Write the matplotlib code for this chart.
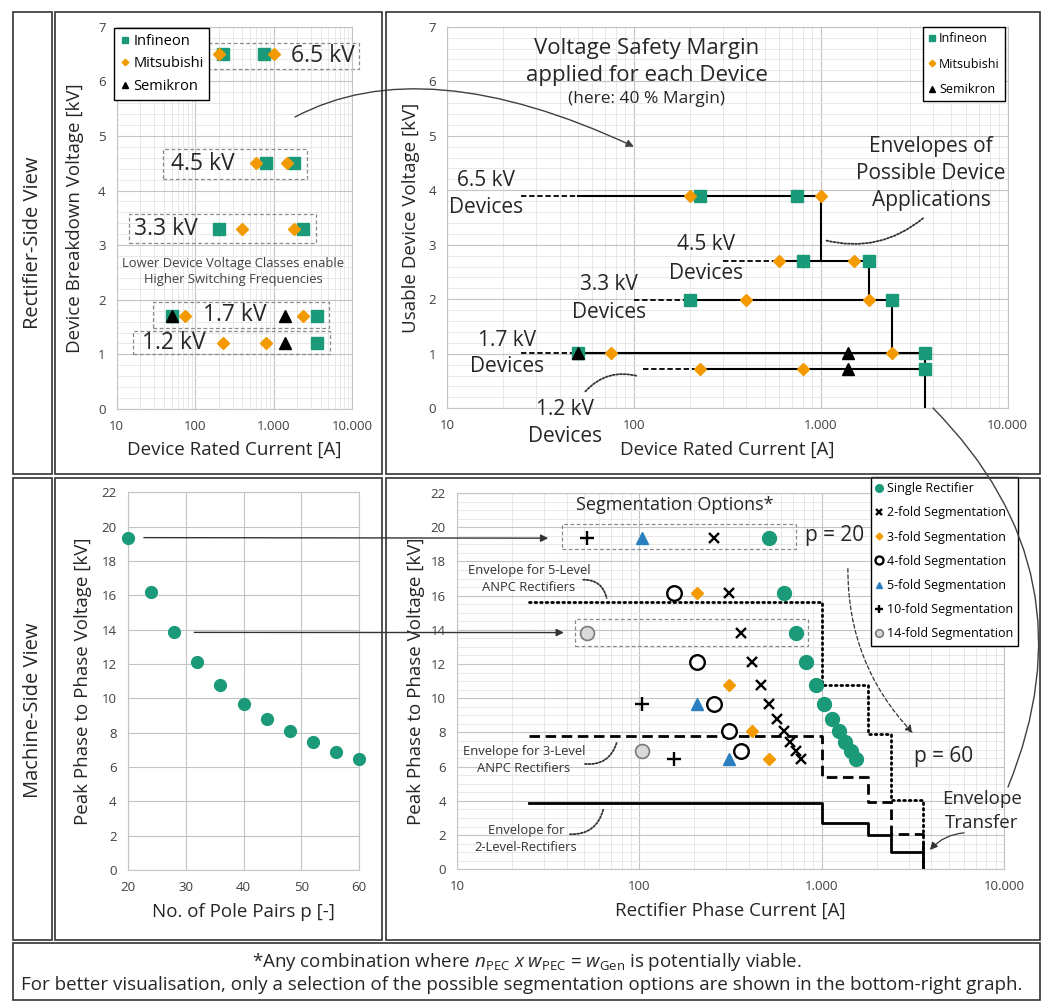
import matplotlib
matplotlib.use('Agg')
import matplotlib.pyplot as plt
from matplotlib.patches import Rectangle, ConnectionPatch
from matplotlib.ticker import FixedLocator, FixedFormatter, NullFormatter, MultipleLocator, LogLocator

plt.rcParams['font.family'] = ['Open Sans', 'DejaVu Sans']
plt.rcParams['mathtext.fontset'] = 'custom'
plt.rcParams['mathtext.rm'] = 'Open Sans'
plt.rcParams['mathtext.it'] = 'Open Sans:italic'

# ------------------------------------------------------------------ data
# Rectifier side: device classes
classes = ['6.5 kV', '4.5 kV', '3.3 kV', '1.7 kV', '1.2 kV']
breakdown_kv = [6.5, 4.5, 3.3, 1.7, 1.2]
usable_kv = [3.9, 2.7, 1.98, 1.02, 0.72]
infineon_I = [[225, 750], [800, 1800], [200, 2400], [50, 3600], [3600]]
mitsubishi_I = [[200, 1000], [600, 1500], [400, 1800], [75, 2400], [225, 800]]
semikron_I = [[], [], [], [50, 1400], [1400]]
row_start_I = [50, 600, 200, 50, 225]
row_end_I = [1000, 1800, 2400, 3600, 3600]
leader_start_I = [25, 300, 100, 25, 112]
step_I = [1000, 1800, 2400, 3600]
step_top_kv = [3.9, 2.7, 1.98, 1.02]
step_bot_kv = [2.7, 1.98, 1.02, 0.0]

# Machine side
pole_pairs = [20, 24, 28, 32, 36, 40, 44, 48, 52, 56, 60]
v_peak = [19.36, 16.17, 13.84, 12.1, 10.76, 9.69, 8.8, 8.08, 7.46, 6.89, 6.45]

# Segmentation options (rectifier phase current [A], voltage [kV])
single_I = [516, 624, 723, 826, 930, 1033, 1136, 1240, 1343, 1446, 1550]
seg2_I = [258, 312, 361, 413, 465, 516, 568, 620, 671, 723, 775]
seg3_V = [16.17, 10.76, 8.08, 6.45]
seg3_I = [208, 310, 413, 516]
seg4_V = [16.17, 12.1, 9.69, 8.08, 6.89]
seg4_I = [156, 207, 258, 310, 361]
seg5_V = [19.36, 9.69, 6.45]
seg5_I = [103, 207, 310]
seg10_V = [19.36, 9.69, 6.45]
seg10_I = [52, 103, 155]
seg14_V = [13.84, 6.89]
seg14_I = [52, 103]

# Envelopes (rectifier phase current breakpoints, voltage levels)
env_I = [25, 1000, 1800, 2400, 3600, 3600]
env2_V = [3.9, 2.7, 1.98, 1.02, 0.0]
env3_V = [7.8, 5.4, 3.96, 2.04, 0.0]
env5_V = [15.6, 10.8, 7.92, 4.08, 0.0]

xtick_vals = [10, 100, 1000, 10000]
xtick_labels = ['10', '100', '1.000', '10.000']

# ------------------------------------------------------------------ styles
TEAL = '#1a9a78'
ORANGE = '#f29a00'
BLUE = '#2a7fc0'
TXT = '#262626'
TICK = '#404040'
MAJ = '#c4c4c4'
MIN = '#e8e8e8'
AXLAB = 13.5

W, H = 1044, 1001
fig = plt.figure(figsize=(W / 100, H / 100), dpi=100)


def fx(px):
    return px / W


def fy(py):
    return 1 - py / H


def rect(x0, y0, x1, y1):
    return [fx(x0), fy(y1), (x1 - x0) / W, (y1 - y0) / H]


# panel frames
for (x0, y0, x1, y1) in [(13, 12, 52, 474), (55, 12, 382, 474), (386, 12, 1040, 474),
                         (13, 478, 52, 940), (55, 478, 382, 940), (386, 478, 1040, 940),
                         (13, 943, 1040, 1000)]:
    fig.add_artist(Rectangle((fx(x0), fy(y1)), (x1 - x0) / W, (y1 - y0) / H,
                             transform=fig.transFigure, fill=False, ec='#333333', lw=1.2))

fig.text(fx(33), fy(243), 'Rectifier-Side View', rotation=90, ha='center', va='center',
         fontsize=14.5, color=TXT)
fig.text(fx(33), fy(710), 'Machine-Side View', rotation=90, ha='center', va='center',
         fontsize=14.5, color=TXT)


def style(ax, logx=True, ymax=7, ymin_step=0.2, ymaj=1):
    ax.set_axisbelow(True)
    for s in ax.spines.values():
        s.set_color(MAJ)
        s.set_linewidth(0.8)
    if logx:
        ax.set_xscale('log')
        ax.set_xlim(10, 10000)
        ax.xaxis.set_major_locator(FixedLocator(xtick_vals))
        ax.xaxis.set_major_formatter(FixedFormatter(xtick_labels))
        ax.xaxis.set_minor_locator(LogLocator(base=10, subs=range(2, 10)))
        ax.xaxis.set_minor_formatter(NullFormatter())
    ax.set_ylim(0, ymax)
    ax.yaxis.set_major_locator(MultipleLocator(ymaj))
    if ymin_step:
        ax.yaxis.set_minor_locator(MultipleLocator(ymin_step))
    ax.tick_params(which='both', length=0, labelsize=9.5, labelcolor=TICK, pad=8)
    ax.grid(which='major', color=MAJ, lw=0.8)
    if ymin_step:
        ax.grid(which='minor', color=MIN, lw=0.7)


def make_legend(ax, handles, labels, x, y, fs, ls):
    leg = ax.legend(handles, labels, loc='upper left', bbox_to_anchor=(fx(x), fy(y)),
                    bbox_transform=fig.transFigure, fontsize=fs, markerscale=0.55,
                    handlelength=0.6, handletextpad=0.3, labelspacing=ls, borderpad=0.4,
                    borderaxespad=0, fancybox=False, edgecolor='black', framealpha=1)
    leg.get_frame().set_linewidth(1.0)
    leg.set_zorder(10)
    return leg


# ------------------------------------------------------------------ top-left
ax_tl = fig.add_axes(rect(116.7, 26.7, 352, 409))
style(ax_tl)
for i, v in enumerate(breakdown_kv):
    ax_tl.plot(infineon_I[i], [v] * len(infineon_I[i]), ls='none', marker='s', ms=8.5,
               mfc=TEAL, mec=TEAL, zorder=3, label='Infineon' if i == 0 else None)
    ax_tl.plot(mitsubishi_I[i], [v] * len(mitsubishi_I[i]), ls='none', marker='D', ms=6,
               mfc=ORANGE, mec=ORANGE, zorder=3, label='Mitsubishi' if i == 0 else None)
    ax_tl.plot(semikron_I[i], [v] * len(semikron_I[i]), ls='none', marker='^', ms=8.5,
               mfc='black', mec='black', zorder=4, label='Semikron' if i == 3 else None)
ax_tl.set_xlabel('Device Rated Current [A]', fontsize=AXLAB, color=TXT, va='center')
ax_tl.xaxis.set_label_coords(0.5, -0.107)
ax_tl.set_ylabel('Device Breakdown Voltage [kV]', fontsize=AXLAB, color=TXT, va='center')
ax_tl.yaxis.set_label_coords(-0.177, 0.5)
h, l = ax_tl.get_legend_handles_labels()
order = [l.index('Infineon'), l.index('Mitsubishi'), l.index('Semikron')]
make_legend(ax_tl, [h[k] for k in order], [l[k] for k in order], 114.3, 28.3, 10.5, 0.5)

tl_boxes = [(140, 6.23, 12280, 6.70), (39.3, 4.21, 2692, 4.76), (14.4, 3.035, 3443, 3.566),
            (29.3, 1.478, 5094, 1.965), (16, 1.002, 5250, 1.434)]
for (x0, y0, x1, y1) in tl_boxes:
    ax_tl.add_patch(Rectangle((x0, y0), x1 - x0, y1 - y0, fill=False, ec='#8a8a8a', lw=0.9,
                              ls=(0, (3, 2)), clip_on=False, zorder=2))
for (x, y), t in zip([(4207, 6.47), (124, 4.49), (42.9, 3.3), (318, 1.72), (54, 1.21)], classes):
    ax_tl.text(x, y, t, ha='center', va='center', fontsize=16.5, color=TXT, zorder=5)
ax_tl.text(304, 2.52, 'Lower Device Voltage Classes enable\nHigher Switching Frequencies',
           ha='center', va='center', fontsize=9.4, color='#404040', linespacing=1.3)

# ------------------------------------------------------------------ top-right
ax_tr = fig.add_axes(rect(447, 26.7, 1007.7, 408.3))
style(ax_tr)
for i, v in enumerate(usable_kv):
    ax_tr.plot([leader_start_I[i], row_start_I[i]], [v, v], color='black', lw=1.3,
               ls=(0, (3, 1.5)), zorder=2)
    ax_tr.plot([row_start_I[i], row_end_I[i]], [v, v], color='black', lw=1.5, zorder=2)
for xi, t, b in zip(step_I, step_top_kv, step_bot_kv):
    ax_tr.plot([xi, xi], [t, b], color='black', lw=1.5, zorder=2)
for i, v in enumerate(usable_kv):
    ax_tr.plot(infineon_I[i], [v] * len(infineon_I[i]), ls='none', marker='s', ms=8.5,
               mfc=TEAL, mec=TEAL, zorder=3, label='Infineon' if i == 0 else None)
    ax_tr.plot(mitsubishi_I[i], [v] * len(mitsubishi_I[i]), ls='none', marker='D', ms=6,
               mfc=ORANGE, mec=ORANGE, zorder=3, label='Mitsubishi' if i == 0 else None)
    ax_tr.plot(semikron_I[i], [v] * len(semikron_I[i]), ls='none', marker='^', ms=8.5,
               mfc='black', mec='black', zorder=4, label='Semikron' if i == 3 else None)
ax_tr.set_xlabel('Device Rated Current [A]', fontsize=AXLAB, color=TXT, va='center')
ax_tr.xaxis.set_label_coords(0.5, -0.109)
ax_tr.set_ylabel('Usable Device Voltage [kV]', fontsize=AXLAB, color=TXT, va='center')
ax_tr.yaxis.set_label_coords(-0.064, 0.5)
h, l = ax_tr.get_legend_handles_labels()
order = [l.index('Infineon'), l.index('Mitsubishi'), l.index('Semikron')]
make_legend(ax_tr, [h[k] for k in order], [l[k] for k in order], 923, 27.3, 9, 1.0)

ax_tr.text(117.5, 6.60, 'Voltage Safety Margin', ha='center', va='center', fontsize=16, color=TXT)
ax_tr.text(117.5, 6.10, 'applied for each Device', ha='center', va='center', fontsize=16, color=TXT)
ax_tr.text(117.5, 5.67, '(here: 40 % Margin)', ha='center', va='center', fontsize=12.5, color=TXT)
for yv, t in zip([4.81, 4.31, 3.82], ['Envelopes of', 'Possible Device', 'Applications']):
    ax_tr.text(3890, yv, t, ha='center', va='center', fontsize=15, color=TXT)
tr_lab = [(16.2, 4.175, 3.69), (244, 3.0, 2.48), (73.6, 2.28, 1.76), (20.9, 1.24, 0.76),
          (42.8, -0.02, -0.52)]
for (x, y1, y2), t in zip(tr_lab, classes):
    ax_tr.text(x, y1, t, ha='center', va='center', fontsize=15, color=TXT)
    ax_tr.text(x, y2, 'Devices', ha='center', va='center', fontsize=15, color=TXT)
ax_tr.annotate('', xy=(1052, 3.083), xytext=(3524, 3.486),
               arrowprops=dict(arrowstyle='-', ls=(0, (1, 1)), lw=1.3, color='#333333',
                               connectionstyle='arc3,rad=-0.25', shrinkA=0, shrinkB=0))
ax_tr.annotate('', xy=(105, 0.59), xytext=(55, 0.31),
               arrowprops=dict(arrowstyle='-', ls=(0, (1, 1)), lw=1.3, color='#333333',
                               connectionstyle='arc3,rad=-0.3', shrinkA=0, shrinkB=0),
               annotation_clip=False)

# ------------------------------------------------------------------ bottom-left
ax_bl = fig.add_axes(rect(127.7, 492.3, 359.3, 870))
style(ax_bl, logx=False, ymax=22, ymin_step=None, ymaj=2)
ax_bl.set_xlim(20, 60)
ax_bl.xaxis.set_major_locator(MultipleLocator(10))
ax_bl.plot(pole_pairs, v_peak, ls='none', marker='o', ms=8.5, mfc=TEAL, mec=TEAL, zorder=3,
           clip_on=False)
ax_bl.set_xlabel('No. of Pole Pairs p [-]', fontsize=AXLAB, color=TXT, va='center')
ax_bl.xaxis.set_label_coords(0.5, -0.11)
ax_bl.set_ylabel('Peak Phase to Phase Voltage [kV]', fontsize=AXLAB, color=TXT, va='center')
ax_bl.yaxis.set_label_coords(-0.192, 0.5)

# ------------------------------------------------------------------ bottom-right
ax_br = fig.add_axes(rect(456.9, 493, 1004, 869.3))
style(ax_br, ymax=22, ymin_step=0.5, ymaj=2)
ax_br.step(env_I, env2_V + [0.0], where='post', color='black', lw=2.0, zorder=2)
ax_br.step(env_I, env3_V + [0.0], where='post', color='black', lw=2.0, ls=(0, (3.8, 2.0)), zorder=2)
ax_br.step(env_I, env5_V + [0.0], where='post', color='black', lw=2.0, ls=(0, (0.6, 1.4)),
           dash_capstyle='round', zorder=2)

ax_br.plot(single_I, v_peak, ls='none', marker='o', ms=10, mfc=TEAL, mec=TEAL, zorder=3,
           label='Single Rectifier')
ax_br.plot(seg2_I, v_peak, ls='none', marker='x', ms=7.5, mew=1.7, color='black', zorder=3,
           label='2-fold Segmentation')
ax_br.plot(seg3_I, seg3_V, ls='none', marker='D', ms=6.3, mfc=ORANGE, mec=ORANGE, zorder=3,
           label='3-fold Segmentation')
ax_br.plot(seg4_I, seg4_V, ls='none', marker='o', ms=10.5, mfc='white', mec='black', mew=1.7,
           zorder=3, label='4-fold Segmentation')
ax_br.plot(seg5_I, seg5_V, ls='none', marker='^', ms=9, mfc=BLUE, mec=BLUE, zorder=3,
           label='5-fold Segmentation')
ax_br.plot(seg10_I, seg10_V, ls='none', marker='+', ms=10, mew=1.7, color='black', zorder=3,
           label='10-fold Segmentation')
ax_br.plot(seg14_I, seg14_V, ls='none', marker='o', ms=10, mfc='#d9d9d9', mec='#7a7a7a',
           mew=1.2, zorder=3, label='14-fold Segmentation')
ax_br.set_xlabel('Rectifier Phase Current [A]', fontsize=AXLAB, color=TXT, va='center')
ax_br.xaxis.set_label_coords(0.5, -0.11)
ax_br.set_ylabel('Peak Phase to Phase Voltage [kV]', fontsize=AXLAB, color=TXT, va='center')
ax_br.yaxis.set_label_coords(-0.075, 0.5)
h, l = ax_br.get_legend_handles_labels()
make_legend(ax_br, h, l, 870.7, 477, 9, 0.9)

for (x0, y0, x1, y1) in [(37.8, 18.7, 720, 20.2), (44.3, 13.04, 845, 14.64)]:
    ax_br.add_patch(Rectangle((x0, y0), x1 - x0, y1 - y0, fill=False, ec='#8a8a8a', lw=0.9,
                              ls=(0, (3, 2)), zorder=2))
ax_br.text(157, 21.28, 'Segmentation Options*', ha='center', va='center', fontsize=13, color=TXT)
ax_br.text(1170, 19.53, 'p = 20', ha='center', va='center', fontsize=15, color=TXT)
ax_br.text(4690, 6.58, 'p = 60', ha='center', va='center', fontsize=15, color=TXT)
for x, y1, y2, t1, t2 in [(24.8, 17.46, 16.45, 'Envelope for 5-Level', 'ANPC Rectifiers'),
                          (23.3, 6.875, 5.905, 'Envelope for 3-Level', 'ANPC Rectifiers'),
                          (23.9, 2.257, 1.286, 'Envelope for', '2-Level-Rectifiers')]:
    ax_br.text(x, y1, t1, ha='center', va='center', fontsize=9.4, color='#333333')
    ax_br.text(x, y2, t2, ha='center', va='center', fontsize=9.4, color='#333333')
ax_br.text(7550, 4.09, 'Envelope', ha='center', va='center', fontsize=13.5, color=TXT)
ax_br.text(7550, 2.69, 'Transfer', ha='center', va='center', fontsize=13.5, color=TXT)

dot = dict(arrowstyle='-', ls=(0, (1, 1)), lw=1.3, color='#333333', shrinkA=0, shrinkB=0)
ax_br.annotate('', xy=(66.2, 15.86), xytext=(49.3, 16.93),
               arrowprops=dict(dot, connectionstyle='arc3,rad=-0.4'))
ax_br.annotate('', xy=(75.2, 7.40), xytext=(50.4, 6.16),
               arrowprops=dict(dot, connectionstyle='arc3,rad=0.4'))
ax_br.annotate('', xy=(63.5, 3.51), xytext=(41.7, 2.05),
               arrowprops=dict(dot, connectionstyle='arc3,rad=0.4'))
ax_br.annotate('', xy=(3162, 7.97), xytext=(1393, 17.58),
               arrowprops=dict(arrowstyle='-|>', ls=(0, (3, 2)), lw=0.9, color='#333333',
                               connectionstyle='arc3,rad=0.2', shrinkA=0, shrinkB=0,
                               mutation_scale=11))
ax_br.annotate('', xy=(3926, 1.13), xytext=(6040, 2.13),
               arrowprops=dict(arrowstyle='-|>', lw=0.9, color='#333333',
                               connectionstyle='arc3,rad=0.2', shrinkA=0, shrinkB=0,
                               mutation_scale=11))

# ------------------------------------------------------------------ cross-panel arrows
con = ConnectionPatch(xyA=(22.8, v_peak[0]), coordsA=ax_bl.transData,
                      xyB=(31.7, v_peak[0]), coordsB=ax_br.transData,
                      arrowstyle='-|>', lw=1.0, color='#333333', mutation_scale=11,
                      shrinkA=0, shrinkB=0)
fig.add_artist(con)
con = ConnectionPatch(xyA=(31.5, v_peak[2]), coordsA=ax_bl.transData,
                      xyB=(38.6, v_peak[2]), coordsB=ax_br.transData,
                      arrowstyle='-|>', lw=1.0, color='#333333', mutation_scale=11,
                      shrinkA=0, shrinkB=0)
fig.add_artist(con)
con = ConnectionPatch(xyA=(fx(295), fy(117)), coordsA=fig.transFigure,
                      xyB=(100, 4.8), coordsB=ax_tr.transData,
                      arrowstyle='-|>', lw=1.0, color='#404040', mutation_scale=11,
                      connectionstyle='angle3,angleA=28,angleB=155', shrinkA=0, shrinkB=0)
fig.add_artist(con)
con = ConnectionPatch(xyA=(fx(933), fy(408)), coordsA=fig.transFigure,
                      xyB=(fx(1008), fy(787)), coordsB=fig.transFigure,
                      arrowstyle='-', lw=1.0, color='#404040',
                      connectionstyle='arc3,rad=-0.33', shrinkA=0, shrinkB=0)
fig.add_artist(con)

# ------------------------------------------------------------------ footnote
fig.text(fx(527), fy(962),
         r'*Any combination where $n_\mathrm{PEC}$ $x$ $w_\mathrm{PEC}$ = $w_\mathrm{Gen}$ is potentially viable.',
         ha='center', va='center', fontsize=13.5, color=TXT)
fig.text(fx(522), fy(985),
         'For better visualisation, only a selection of the possible segmentation options are shown in the bottom-right graph.',
         ha='center', va='center', fontsize=13.5, color=TXT)

fig.savefig('out.png', dpi=100)
